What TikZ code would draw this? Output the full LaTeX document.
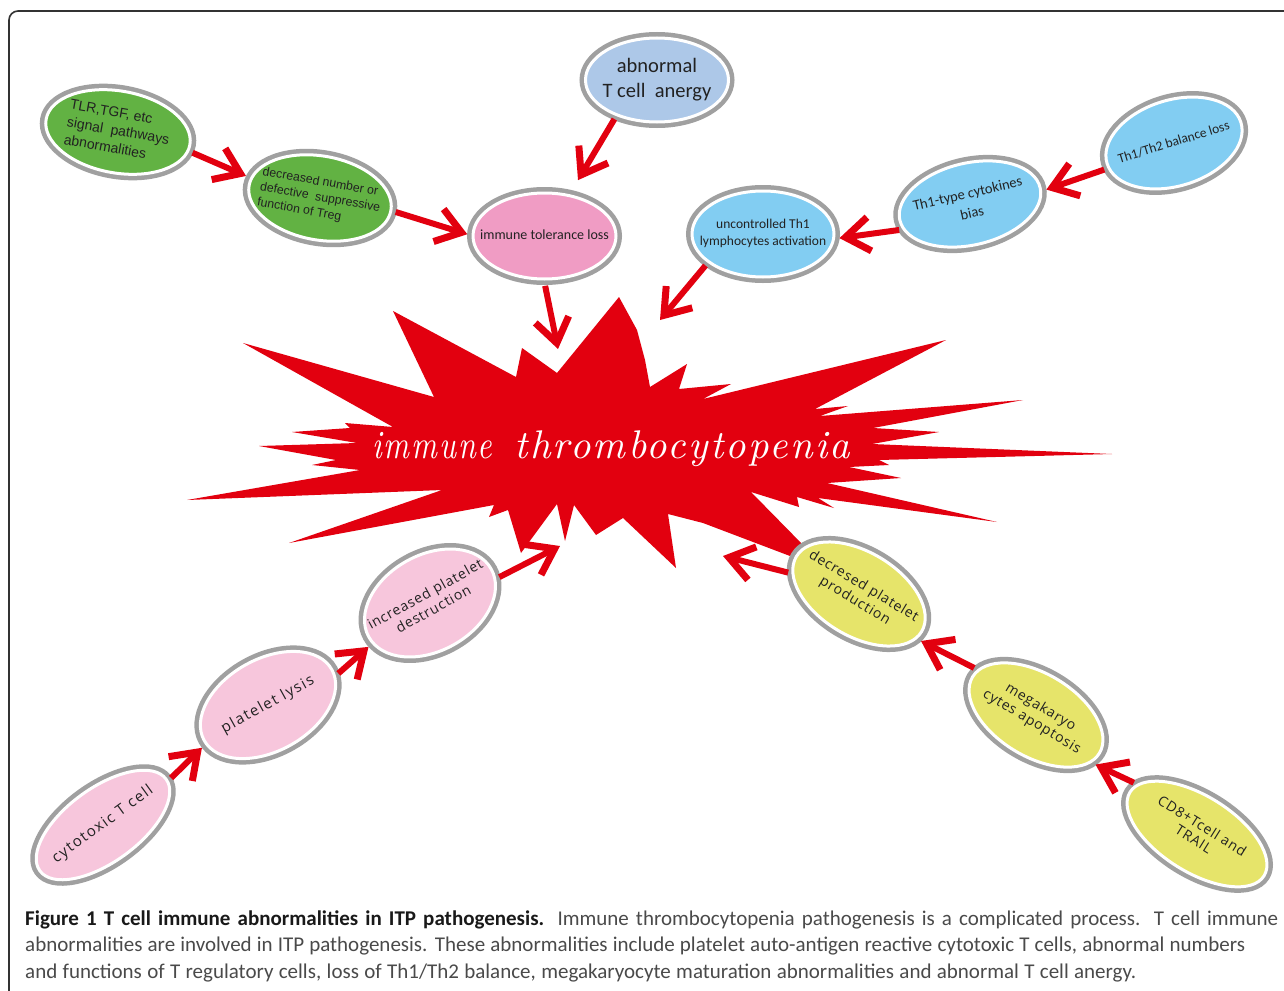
\documentclass[tikz,border=0pt]{standalone}
\usepackage{fontspec}
\usepackage{graphicx}
\usetikzlibrary{shapes.geometric,arrows.meta}
\newfontfamily\carl{Carlito}
\newfontfamily\libs{Liberation Sans}
\newfontfamily\opens{Open Sans}
\newfontfamily\titlef{lmroman10-italic}[Extension=.otf, LetterSpace=6]
\definecolor{tred}{HTML}{E2000F}
\definecolor{ringgray}{HTML}{A0A0A0}
\definecolor{cgreen}{HTML}{62B243}
\definecolor{cblueA}{HTML}{ADC8E8}
\definecolor{cpink}{HTML}{F09CC4}
\definecolor{cblue}{HTML}{82CDF2}
\definecolor{cpinkL}{HTML}{F7C6DC}
\definecolor{cyel}{HTML}{E6E46A}
\definecolor{framegray}{HTML}{333333}
\definecolor{capgray}{HTML}{4A4A4A}
\definecolor{txt}{HTML}{222222}
\newcommand\zt[2][c]{\makebox[0pt]{\begin{tabular}{@{}#1@{}}#2\end{tabular}}}
\tikzset{
  bub/.style={ellipse, inner sep=0pt, outer sep=0pt, fill=#1, draw=white, line width=3pt,
    preaction={draw=ringgray, line width=12pt}, text=txt},
  rarr/.style={draw=tred, line width=6pt,
    -{Straight Barb[length=24pt,width=34pt,line width=7pt]},
    shorten <=5pt, shorten >=6pt},
  fgreen/.style={font=\libs\fontsize{14}{18}\selectfont},
  fcarl/.style={font=\carl\fontsize{14}{17}\selectfont},
  fopenA/.style={font=\opens\fontsize{15}{18}\selectfont\addfontfeatures{LetterSpace=10}},
  fopenB/.style={font=\opens\fontsize{14}{17}\selectfont\addfontfeatures{LetterSpace=6}},
  captxt/.style={anchor=base west, inner sep=0pt, font=\carl\fontsize{21}{24}\selectfont, text=capgray},
}
\begin{document}
\begin{tikzpicture}[x=1pt,y=-1pt]
\useasboundingbox (0,0) rectangle (1284,990);
\fill[white] (0,0) rectangle (1284,990);
% frame
\draw[framegray, line width=1.6pt, rounded corners=9pt] (1300,11) -- (9,11) -- (9,1005);

% burst
\fill[tred] (619,297) -- (637,330) -- (645,360) -- (650,387) -- (687,364) -- (679,389)
  -- (731,384) -- (703,399) -- (946,340) -- (815,409) -- (848,406) -- (820,416)
  -- (1023,400) -- (873,428) -- (939,432) -- (872,444) -- (1112,454) -- (879,460)
  -- (889,465) -- (849,467) -- (901,478) -- (827,483) -- (997,522) -- (818,498)
  -- (834,508) -- (797,497) -- (799,507) -- (751,492) -- (806,548) -- (790,556)
  -- (703,523) -- (668,514) -- (676,568) -- (623,518) -- (596,535) -- (574,505)
  -- (565,541) -- (557,504) -- (521,553) -- (508,510) -- (489,517) -- (494,505)
  -- (289,543) -- (442,490) -- (187,500) -- (360,470) -- (312,465) -- (336,460)
  -- (259,446) -- (357,443) -- (292,432) -- (350,428) -- (345,423) -- (393,427)
  -- (243,343) -- (434,397) -- (393,311) -- (516,377) -- (522,348) -- (557,373) -- cycle;
\node[text=white, inner sep=0pt, anchor=base west,
  font=\titlef\fontsize{40}{44}\selectfont] (title) at (372,458)
  {\scalebox{0.79}[1]{immune}\hspace{22pt}thrombocytopenia};

% burst targets
\coordinate (bA) at (558,349);
\coordinate (bB) at (660,320);
\coordinate (bC) at (560,546);
\coordinate (bD) at (723,556);

% nodes
\node[bub=cgreen, minimum width=146pt, minimum height=82pt, rotate=-10, fgreen] (tlr) at (118,132)
  {\zt[l]{TLR,TGF, etc\\signal\ \ pathways\\abnormalities}};
\node[bub=cgreen, minimum width=144pt, minimum height=84pt, rotate=-10,
  font=\libs\fontsize{12.3}{15.5}\selectfont] (dnum) at (320,198)
  {\zt[l]{decreased number or\\defective\ \ suppressive\\function of Treg}};
\node[bub=cblueA, minimum width=143pt, minimum height=84pt,
  font=\carl\fontsize{20.5}{25}\selectfont] (abn) at (657,80)
  {\zt{abnormal\\T cell\ \ anergy}};
\node[bub=cpink, minimum width=143pt, minimum height=86pt, fcarl] (imm) at (544.5,236)
  {\zt{immune tolerance loss}};
\node[bub=cblue, minimum width=142pt, minimum height=86pt,
  font=\carl\fontsize{13.5}{17}\selectfont] (unc) at (763,234)
  {\zt{uncontrolled Th1\\lymphocytes activation}};
\node[bub=cblue, minimum width=144pt, minimum height=82pt, rotate=13,
  font=\carl\fontsize{14.5}{20}\selectfont] (th1t) at (970,204)
  {\zt{Th1-type cytokines\\bias}};
\node[bub=cblue, minimum width=140pt, minimum height=86pt, rotate=17,
  font=\carl\fontsize{13.5}{17}\selectfont] (th12) at (1174,143)
  {\zt{Th1/Th2 balance loss}};
\node[bub=cpinkL, minimum width=156pt, minimum height=74pt, rotate=36, fopenA] (cyto) at (103,825)
  {\zt{cytotoxic T cell}};
\node[bub=cpinkL, minimum width=146pt, minimum height=92pt, rotate=29, fopenA] (lys) at (268,705)
  {\zt{platelet lysis}};
\node[bub=cpinkL, minimum width=140pt, minimum height=96pt, rotate=29, fopenB] (incr) at (430,603)
  {\zt{increased platelet\\destruction}};
\node[bub=cyel, minimum width=146pt, minimum height=84pt, rotate=-31, fopenB] (dprod) at (859,594)
  {\zt{decresed platelet\\production}};
\node[bub=cyel, minimum width=148pt, minimum height=83pt, rotate=-31, fopenB] (mega) at (1036,715)
  {\zt{megakaryo\\cytes apoptosis}};
\node[bub=cyel, minimum width=158pt, minimum height=76pt, rotate=-32,
  font=\opens\fontsize{14}{16}\selectfont\addfontfeatures{LetterSpace=6}] (cd8) at (1197,834)
  {\zt{CD8+Tcell and\\TRAIL}};

% arrows
\draw[rarr] (tlr.-5) -- (dnum.174);
\draw[rarr] (dnum.0) -- (imm.west);
\draw[rarr, shorten >=18pt] (abn.221) -- (imm.59);
\draw[rarr, shorten >=0pt, shorten <=7pt] (imm.-91) -- (bA);
\draw[rarr, shorten >=0pt] (unc.207) -- (bB);
\draw[rarr] (th1t.188) -- (unc.-4);
\draw[rarr] (th12.184) -- (th1t.-3);
\draw[rarr] (cyto.-2) -- (lys.183);
\draw[rarr] (lys.-6) -- (incr.186);
\draw[rarr, shorten >=0pt] (incr.-9) -- (bC);
\draw[rarr, shorten >=0pt] (dprod.194) -- (bD);
\draw[rarr] (mega.173) -- (dprod.-7);
\draw[rarr] (cd8.172) -- (mega.-10);

% caption
\node[captxt] (cap1) at (25,925) {\makebox[1253pt][s]{{\color{black!90}\bfseries Figure 1 T cell immune abnormalities in ITP pathogenesis.} Immune thrombocytopenia pathogenesis is a complicated process. T cell immune}};
\node[captxt] (cap2) at (25,951) {\makebox[1220pt][s]{abnormalities are involved in ITP pathogenesis. These abnormalities include platelet auto-antigen reactive cytotoxic T cells, abnormal numbers}};
\node[captxt] (cap3) at (25,978) {\makebox[1111pt][s]{and functions of T regulatory cells, loss of Th1/Th2 balance, megakaryocyte maturation abnormalities and abnormal T cell anergy.}};
\end{tikzpicture}
\end{document}
